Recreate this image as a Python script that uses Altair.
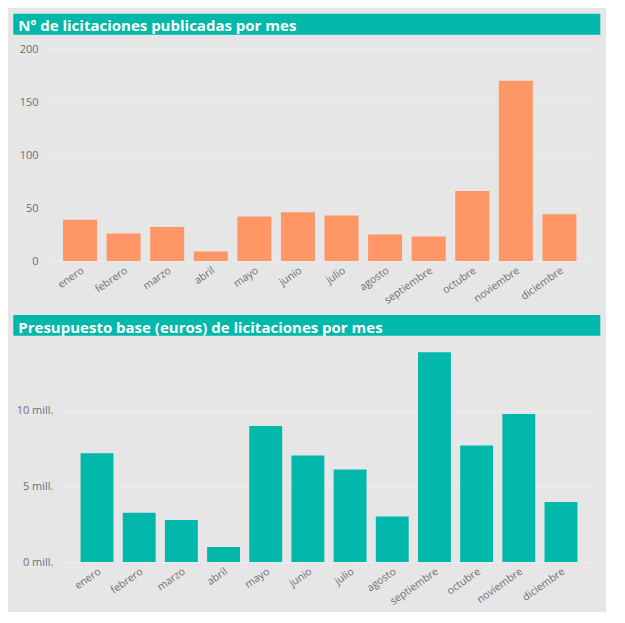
import altair as alt
import pandas as pd

meses = ["enero", "febrero", "marzo", "abril", "mayo", "junio", "julio",
         "agosto", "septiembre", "octubre", "noviembre", "diciembre"]
licitaciones = [39, 26, 32, 9, 42, 46, 43, 25, 23, 66, 170, 44]
presupuesto_mill = [7.2, 3.26, 2.78, 0.99, 9.0, 7.05, 6.12, 3.01, 13.88, 7.71, 9.8, 3.97]
ticks1 = [0, 50, 100, 150, 200]
ticks2 = [0, 5, 10]

titulo1 = "Nº de licitaciones publicadas por mes"
titulo2 = "Presupuesto base (euros) de licitaciones por mes"

BG = "#E6E6E6"
TEAL = "#01B8AA"
ORANGE = "#FE9666"
GRID = "#EDEDED"
LABEL = "#707070"
FONT = "Open Sans"

df1 = pd.DataFrame({"mes": meses, "n": licitaciones})
df2 = pd.DataFrame({"mes": meses, "v": presupuesto_mill})

x_axis = alt.Axis(title=None, labelAngle=-35, domain=False, ticks=False,
                  labelFontSize=10.5, labelColor=LABEL, labelFont=FONT,
                  labelPadding=4, labelOverlap=False)


def banner(text, y0, y1, ty):
    d = pd.DataFrame({"t": [text]})
    rect = alt.Chart(d).mark_rect(color=TEAL).encode(
        x=alt.value(-49.7), x2=alt.value(537.3), y=alt.value(y0), y2=alt.value(y1))
    txt = alt.Chart(d).mark_text(align="left", baseline="alphabetic", color="white",
                                 font=FONT, fontSize=15, fontWeight=700).encode(
        x=alt.value(-44.7), y=alt.value(ty), text="t:N")
    return rect, txt


W = 532

# ---- top panel ----
H1 = 212
sc1 = alt.Scale(domain=[0, 200], nice=False)
ax1 = alt.Axis(values=ticks1, domain=False, ticks=False, grid=False, title=None,
               labelFontSize=11, labelColor=LABEL, labelFont=FONT, labelPadding=25)
grid1 = alt.Chart(pd.DataFrame({"g": ticks1})).mark_rule(color=GRID, strokeWidth=1).encode(
    y=alt.Y("g:Q", scale=sc1, axis=ax1, title=None),
    x=alt.value(-15), x2=alt.value(W))
bars1 = alt.Chart(df1).mark_bar(color=ORANGE).encode(
    x=alt.X("mes:N", sort=meses, axis=x_axis,
            scale=alt.Scale(paddingInner=0.22, paddingOuter=0.213, align=0)),
    y=alt.Y("n:Q", title=None, scale=sc1, axis=ax1),
)
r1, t1 = banner(titulo1, -35.3, -14.3, -18.3)
top = alt.layer(r1, t1, grid1, bars1).properties(width=W, height=H1)

# ---- bottom panel ----
H2 = 216
sc2 = alt.Scale(domain=[0, 14.3], nice=False)
bars2 = alt.Chart(df2).mark_bar(color=TEAL).encode(
    x=alt.X("mes:N", sort=meses, axis=x_axis,
            scale=alt.Scale(paddingInner=0.22, paddingOuter=0.4165)),
    y=alt.Y("v:Q", title=None, scale=sc2,
            axis=alt.Axis(values=ticks2, domain=False, ticks=False,
                          labelExpr="datum.value + ' mill.'",
                          labelFontSize=11, labelColor=LABEL, labelFont=FONT,
                          labelPadding=10, gridColor=GRID, gridWidth=1)),
)
r2, t2 = banner(titulo2, -30.9, -10.2, -13.2)
bottom = alt.layer(r2, t2, bars2).properties(width=W, height=H2)

chart = alt.concat(top, bottom, columns=1, spacing=9).properties(
    background=BG,
    padding={"left": 5, "top": 5, "right": 5, "bottom": 5},
).configure(font=FONT).configure_view(strokeWidth=0, stroke="transparent")

chart.save("out.html", embed_options={"renderer": "svg", "actions": False})
